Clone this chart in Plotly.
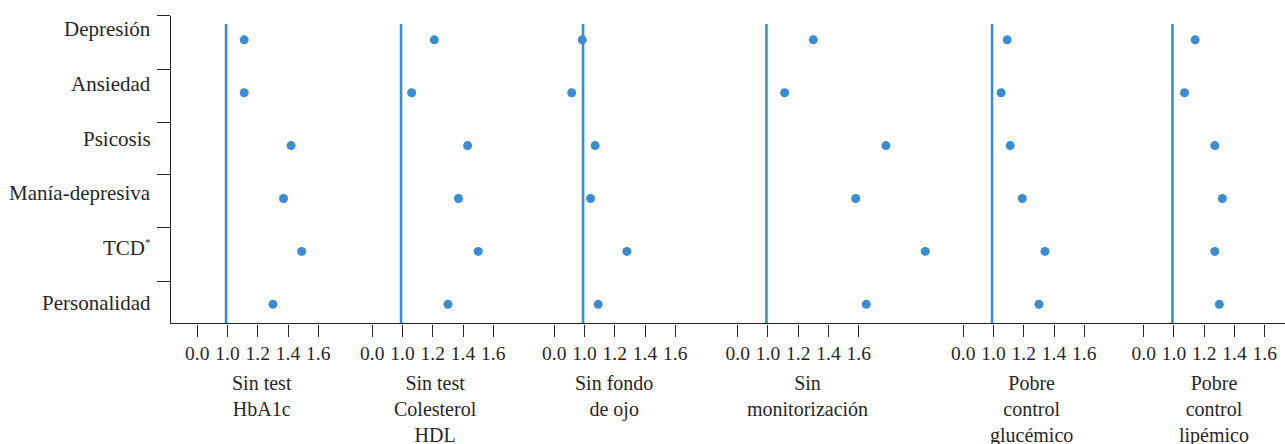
import plotly.graph_objects as go

# ---------------- data ----------------
categories = ["Depresión", "Ansiedad", "Psicosis", "Manía-depresiva",
              "TCD<sup><span style='font-size:11px'>*</span></sup>", "Personalidad"]
outcomes = ["Sin test<br>HbA1c", "Sin test<br>Colesterol<br>HDL", "Sin fondo<br>de ojo",
            "Sin<br>monitorización", "Pobre<br>control<br>glucémico", "Pobre<br>control<br>lipémico"]

sin_hba1c = [1.11, 1.11, 1.42, 1.37, 1.49, 1.30]
sin_hdl = [1.21, 1.06, 1.43, 1.37, 1.50, 1.30]
sin_fondo_ojo = [0.985, 0.915, 1.07, 1.04, 1.28, 1.09]
sin_monitorizacion = [1.30, 1.11, 1.78, 1.58, 2.04, 1.65]
pobre_glucemico = [1.09, 1.05, 1.11, 1.19, 1.34, 1.30]
pobre_lipemico = [1.14, 1.07, 1.27, 1.32, 1.27, 1.30]
series = [sin_hba1c, sin_hdl, sin_fondo_ojo, sin_monitorizacion, pobre_glucemico, pobre_lipemico]

tick_vals = [0.8, 1.0, 1.2, 1.4, 1.6]          # first position shown as the axis break "0.0"
tick_text = ["0.0", "1.0", "1.2", "1.4", "1.6"]
ref_value = 0.99

# ---------------- layout geometry (pixels) ----------------
W, H = 1285, 444
px_per_unit = 151.25
zero_tick_px = [197.3, 372.3, 554.3, 737.7, 963.3, 1143.7]
bounds_px = [170.7, 345, 525, 710, 945, 1115, W]
title_center_px = [261.5, 435.3, 614.2, 807.7, 1031.0, 1213.8]
y_top_px, y_bot_px = 15.7, 323.3
y_range = [-0.359, 5.456]
band_ticks = [0.44, 1.448, 2.45, 3.446, 4.448, 5.456]
label_pos = [5.21, 4.17, 3.13, 2.10, 1.07, 0.03]
line_top = 5.30

BLUE = "#3a8dd3"
INK = "#262626"
FONT = "Liberation Serif"

ypos = list(range(len(categories) - 1, -1, -1))

fig = go.Figure()
for k, vals in enumerate(series):
    xa = "x" if k == 0 else f"x{k+1}"
    fig.add_trace(go.Scatter(x=vals, y=ypos, mode="markers", xaxis=xa, yaxis="y",
                             marker=dict(size=9, color=BLUE), cliponaxis=False,
                             showlegend=False, hoverinfo="x+y"))
    fig.add_shape(type="line", xref=xa, yref="y", x0=ref_value, x1=ref_value,
                  y0=y_range[0], y1=line_top, line=dict(color=BLUE, width=2.6), layer="below")

layout = dict(width=W, height=H, margin=dict(l=0, r=0, t=0, b=0), autosize=False,
              paper_bgcolor="white", plot_bgcolor="white", showlegend=False)

for k in range(6):
    key = "xaxis" if k == 0 else f"xaxis{k+1}"
    p0 = zero_tick_px[k]
    r0 = 0.8 + (bounds_px[k] - p0) / px_per_unit
    r1 = 0.8 + (bounds_px[k + 1] - p0) / px_per_unit
    layout[key] = dict(domain=[bounds_px[k] / W, bounds_px[k + 1] / W], range=[r0, r1],
                       anchor="y", showline=True, linecolor=INK, linewidth=1.4,
                       ticks="outside", ticklen=12, tickwidth=1.4, tickcolor=INK,
                       tickvals=tick_vals, ticktext=tick_text,
                       tickfont=dict(family=FONT, size=19.5, color=INK),
                       showgrid=False, zeroline=False, fixedrange=True)

ydom = [1 - y_bot_px / H, 1 - y_top_px / H]
layout["yaxis"] = dict(domain=ydom, range=y_range, anchor="x", showline=True, linecolor=INK,
                       linewidth=1.4, ticks="outside", ticklen=13, tickwidth=1.4, tickcolor=INK,
                       tickvals=band_ticks, showticklabels=False, showgrid=False, zeroline=False,
                       fixedrange=True)
fig.update_layout(**layout)

for name, yp in zip(categories, label_pos):
    fig.add_annotation(text=name, x=153 / W, y=yp, xref="paper", yref="y",
                       xanchor="right", yanchor="middle", showarrow=False,
                       font=dict(family=FONT, size=21, color=INK))

for k, t in enumerate(outcomes):
    fig.add_annotation(text=t, x=title_center_px[k] / W, y=1 - 370 / H, xref="paper", yref="paper",
                       xanchor="center", yanchor="top", showarrow=False,
                       font=dict(family=FONT, size=20, color=INK))

fig.write_html("out.html", config={"displayModeBar": False},
               post_script="document.body.style.margin='0';")
